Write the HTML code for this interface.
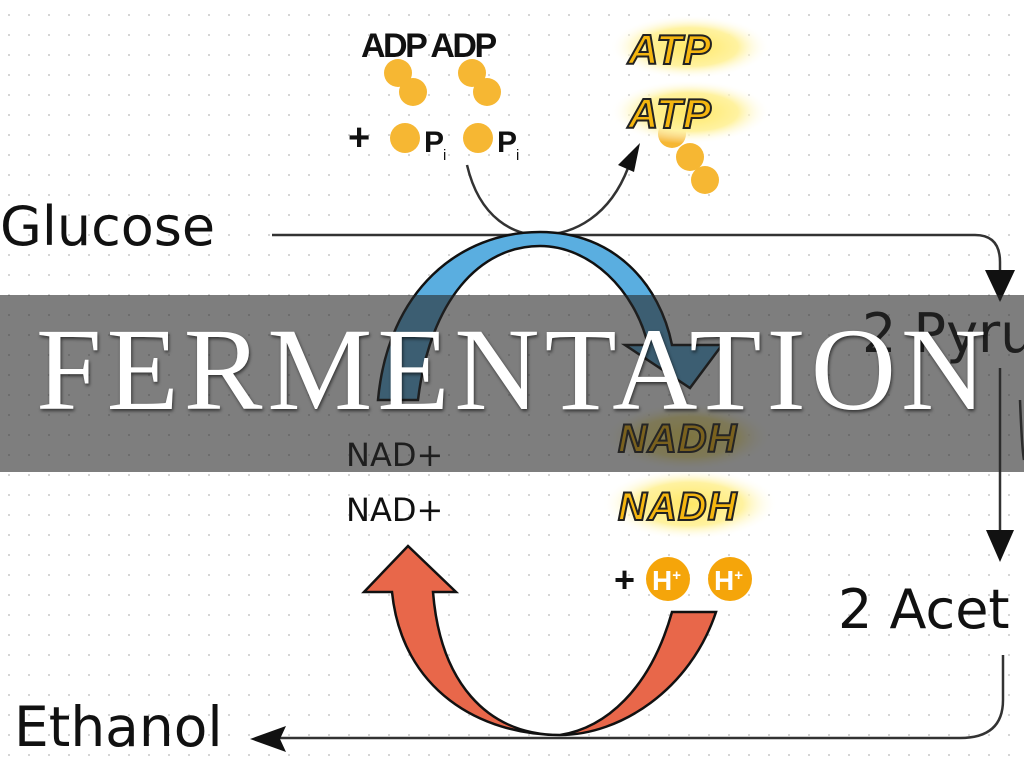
<!DOCTYPE html>
<html><head><meta charset="utf-8"><style>
html,body{margin:0;padding:0;background:#fff;}
#w{position:relative;width:1024px;height:768px;overflow:hidden;background:#fff;}
svg{position:absolute;left:0;top:0;}
#band{position:absolute;left:0;top:295px;width:1024px;height:177px;background:rgba(40,40,40,0.6);}
#title{position:absolute;left:0;top:295px;width:1024px;height:177px;font-family:"Liberation Serif",serif;font-size:118px;line-height:177px;color:#fff;letter-spacing:5px;text-shadow:1px 2px 3px rgba(0,0,0,0.6);white-space:nowrap;}
#title span{position:absolute;left:36px;top:-14px;}
</style></head><body><div id="w">
<svg width="1024" height="768" viewBox="0 0 1024 768" xmlns="http://www.w3.org/2000/svg">
<defs>
<pattern id="dots" x="8" y="14" width="20" height="20" patternUnits="userSpaceOnUse"><circle cx="1" cy="1" r="1" fill="#c8c8c8"/></pattern>
<radialGradient id="glow"><stop offset="0" stop-color="#ffe866"/><stop offset="0.6" stop-color="#fff2a0"/><stop offset="1" stop-color="#fff" stop-opacity="0"/></radialGradient>
</defs>
<rect width="1024" height="768" fill="url(#dots)"/>
<g font-family="DejaVu Sans, sans-serif" fill="#111">
<text x="0" y="245" font-size="54">Glucose</text>
<text x="14" y="746" font-size="55">Ethanol</text>
<text x="862" y="352" font-size="54">2 Pyru</text>
<text x="838" y="628" font-size="54">2 Acet</text>
<text x="346" y="466" font-size="32">NAD+</text>
<text x="346" y="521" font-size="32">NAD+</text>
</g>
<g fill="none" stroke="#333" stroke-width="2.5">
<path d="M272,235 L975,235 Q1000,235 1000,262 L1000,300"/>
<path d="M1000,368 L1000,540"/>
<path d="M1003,655 L1003,700 Q1003,738 960,738 L268,738"/>
<path d="M1020,400 Q1022,450 1024,460"/>
<path d="M467,165 C480,220 515,235 540,235 C575,235 610,215 628,168"/>
</g>
<g fill="#111">
<polygon points="985,270 1015,270 1000,302"/>
<polygon points="986,530 1014,530 1000,562"/>
<polygon points="250,739 286,726 280,739 286,752"/>
<polygon points="640,143 618,165 634,172"/>
</g>
<path d="M378,400 C388,290 460,232 540,232 C615,232 660,285 672,345 L722,345 L690,388 L625,345 L648,345 C635,290 590,246 540,246 C480,246 430,300 418,400 Z" fill="#5aaee0" stroke="#111" stroke-width="2.5"/>
<path d="M716,612 C690,690 620,735 560,735 C485,735 440,680 433,592 L456,592 L408,546 L364,592 L392,592 C402,690 480,735 560,735 C605,728 650,690 672,612 Z" fill="#e8674a" stroke="#111" stroke-width="2.5"/>
<text x="361" y="57" font-family="Liberation Sans, sans-serif" font-weight="bold" font-size="34" letter-spacing="-2.5" fill="#111">ADP ADP</text>
<g fill="#f6b733">
<circle cx="398" cy="73" r="14"/><circle cx="413" cy="92" r="14"/>
<circle cx="472" cy="73" r="14"/><circle cx="487" cy="92" r="14"/>
<circle cx="405" cy="138" r="15"/><circle cx="478" cy="138" r="15"/>
<circle cx="672" cy="134" r="14"/><circle cx="690" cy="157" r="14"/><circle cx="705" cy="180" r="14"/>
</g>
<g font-family="Liberation Sans, sans-serif" fill="#111">
<text x="348" y="150" font-size="38" font-weight="bold">+</text>
<text x="424" y="152" font-size="30" font-weight="bold">P</text><text x="443" y="160" font-size="15">i</text>
<text x="497" y="152" font-size="30" font-weight="bold">P</text><text x="516" y="160" font-size="15">i</text>
<text x="614" y="592" font-size="36" font-weight="bold">+</text>
</g>
<ellipse cx="690" cy="47" rx="80" ry="32" fill="url(#glow)"/>
<ellipse cx="690" cy="112" rx="80" ry="32" fill="url(#glow)"/>
<ellipse cx="688" cy="437" rx="84" ry="34" fill="url(#glow)"/>
<ellipse cx="690" cy="504" rx="88" ry="36" fill="url(#glow)"/>
<g font-family="Liberation Sans, sans-serif" font-weight="bold" font-style="italic" fill="#f5b60f" stroke="#222" stroke-width="2" letter-spacing="1">
<text x="628" y="64" font-size="42">ATP</text>
<text x="628" y="128" font-size="42">ATP</text>
<text x="618" y="452" font-size="40">NADH</text>
<text x="618" y="520" font-size="40">NADH</text>
</g>
<g><circle cx="668" cy="579" r="22" fill="#f5a50a"/><circle cx="730" cy="579" r="22" fill="#f5a50a"/>
<text x="652" y="590" font-family="Liberation Sans, sans-serif" font-weight="bold" font-size="28" fill="#fff">H<tspan font-size="15" dy="-10">+</tspan></text>
<text x="714" y="590" font-family="Liberation Sans, sans-serif" font-weight="bold" font-size="28" fill="#fff">H<tspan font-size="15" dy="-10">+</tspan></text></g>
</svg>
<div id="band"></div>
<div id="title"><span>FERMENTATION</span></div>
</div></body></html>
